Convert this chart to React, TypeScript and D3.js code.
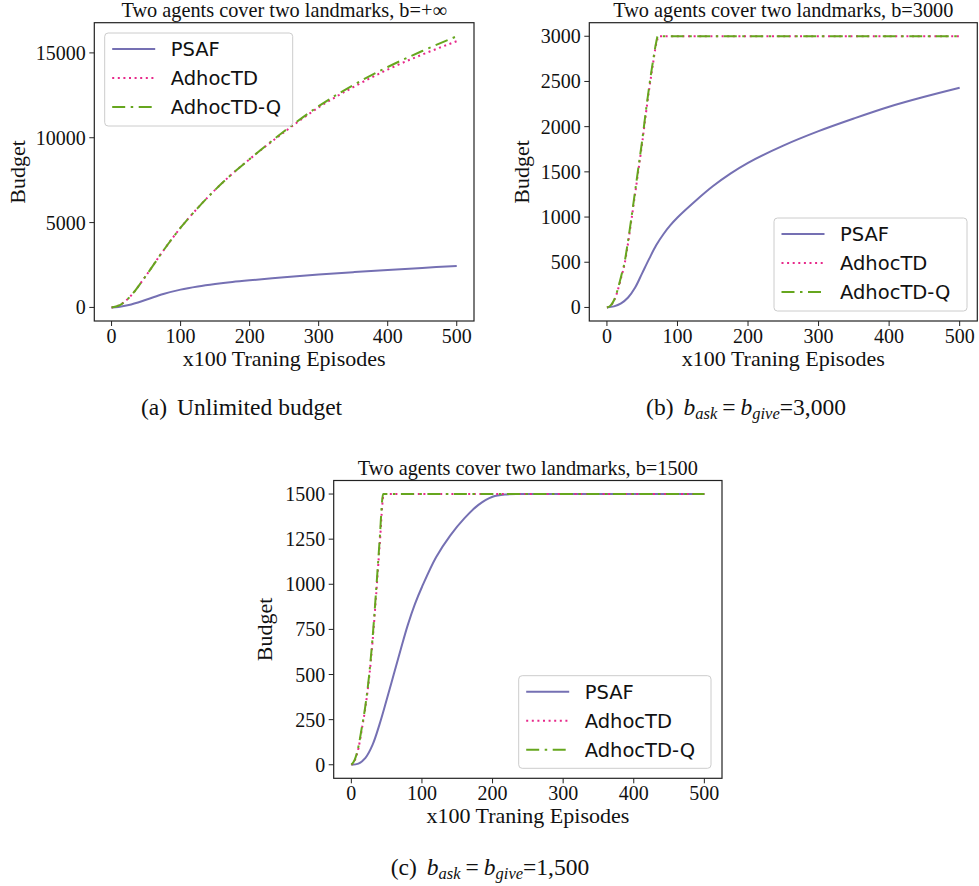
import React from 'react';
import * as d3 from 'd3';

// ---------- data ----------
const SERIES_NAMES = ['PSAF', 'AdhocTD', 'AdhocTD-Q'];
const X_TICKS = [0, 100, 200, 300, 400, 500];

// (a) unlimited budget
const A_PSAF_X = [0, 10, 25, 50, 75, 100, 125, 150, 175, 200, 250, 300, 350, 400, 450, 500];
const A_PSAF_Y = [0, 30, 140, 450, 790, 1050, 1235, 1380, 1500, 1600, 1780, 1940, 2080, 2210, 2330, 2440];
const A_TD_X = [0, 5, 12, 25, 50, 75, 100, 125, 150, 175, 200, 250, 300, 350, 400, 450, 500];
const A_TD_Y = [0, 40, 140, 560, 1880, 3350, 4700, 5870, 6930, 7880, 8740, 10330, 11790, 12980, 14020, 14900, 15690];
const A_TDQ_X = [0, 5, 12, 25, 50, 75, 100, 125, 150, 175, 200, 250, 300, 350, 400, 450, 500];
const A_TDQ_Y = [0, 40, 140, 560, 1880, 3350, 4700, 5870, 6930, 7880, 8740, 10380, 11860, 13100, 14170, 15110, 15980];
const A_Y_TICKS = [0, 5000, 10000, 15000];

// (b) b = 3000
const B_PSAF_X = [0, 10, 20, 30, 40, 50, 60, 70, 80, 90, 100, 125, 150, 175, 200, 250, 300, 350, 400, 450, 500];
const B_PSAF_Y = [0, 12, 45, 110, 220, 380, 540, 690, 810, 910, 995, 1175, 1340, 1480, 1600, 1790, 1950, 2090, 2220, 2330, 2430];
const B_TD_X = [0, 5, 10, 15, 20, 25, 30, 35, 40, 45, 50, 55, 60, 65, 70, 74, 100, 200, 300, 400, 500];
const B_TD_Y = [0, 18, 75, 180, 325, 480, 715, 985, 1260, 1540, 1820, 2130, 2420, 2680, 2920, 3000, 3000, 3000, 3000, 3000, 3000];
const B_TDQ_X = [0, 5, 10, 15, 20, 25, 30, 35, 40, 45, 50, 55, 60, 65, 70, 72, 100, 200, 300, 400, 500];
const B_TDQ_Y = [0, 20, 80, 190, 340, 500, 740, 1010, 1290, 1570, 1850, 2160, 2450, 2710, 2940, 3000, 3000, 3000, 3000, 3000, 3000];
const B_Y_TICKS = [0, 500, 1000, 1500, 2000, 2500, 3000];

// (c) b = 1500
const C_PSAF_X = [0, 10, 20, 30, 40, 50, 60, 70, 80, 90, 100, 120, 140, 160, 180, 200, 220, 240, 300, 400, 500];
const C_PSAF_Y = [0, 6, 38, 110, 225, 360, 500, 640, 775, 890, 985, 1150, 1270, 1365, 1440, 1485, 1498, 1500, 1500, 1500, 1500];
const C_TD_X = [0, 5, 10, 15, 20, 25, 30, 35, 40, 46, 100, 200, 300, 400, 500];
const C_TD_Y = [0, 25, 90, 200, 320, 475, 680, 935, 1210, 1500, 1500, 1500, 1500, 1500, 1500];
const C_TDQ_X = [0, 5, 10, 15, 20, 25, 30, 35, 40, 45, 100, 200, 300, 400, 500];
const C_TDQ_Y = [0, 30, 100, 210, 330, 490, 700, 960, 1240, 1500, 1500, 1500, 1500, 1500, 1500];
const C_Y_TICKS = [0, 250, 500, 750, 1000, 1250, 1500];

// ---------- styles ----------
const COLORS = ['#7570b3', '#e7298a', '#66a61e'];
const DASHES = [undefined, '2 3.6', '13 5.5 2.5 5.5'];
const SERIF = '"Liberation Serif", "Times New Roman", serif';
const SANS = '"DejaVu Sans", sans-serif';

type Box = { left: number; top: number; right: number; bottom: number };
type Leg = { x: number; y: number; w: number; h: number };

function Panel(props: {
  box: Box;
  yDomain: [number, number];
  yTicks: number[];
  xs: number[][];
  ys: number[][];
  legend: Leg;
  title: string;
  ylabelX: number;
}) {
  const { box, yDomain, yTicks, xs, ys, legend, title, ylabelX } = props;
  const x = d3.scaleLinear().domain([-25, 525]).range([box.left, box.right]);
  const y = d3.scaleLinear().domain(yDomain).range([box.bottom, box.top]);
  const mkLine = (curve: d3.CurveFactory) =>
    d3
      .line<[number, number]>()
      .x((d) => x(d[0]))
      .y((d) => y(d[1]))
      .curve(curve);
  const smooth = mkLine(d3.curveCatmullRom.alpha(0.5));
  const mono = mkLine(d3.curveMonotoneX);
  const cx = (box.left + box.right) / 2;
  const cy = (box.top + box.bottom) / 2;
  return (
    <g>
      {xs.map((xa, i) => (
        <path
          key={i}
          d={(i === 0 ? smooth : mono)(xa.map((v, j) => [v, ys[i][j]] as [number, number])) || ''}
          fill="none"
          stroke={COLORS[i]}
          strokeWidth={2}
          strokeDasharray={DASHES[i]}
        />
      ))}
      <rect
        x={box.left}
        y={box.top}
        width={box.right - box.left}
        height={box.bottom - box.top}
        fill="none"
        stroke="#222"
        strokeWidth={1.2}
      />
      {X_TICKS.map((t) => (
        <g key={'x' + t}>
          <line x1={x(t)} x2={x(t)} y1={box.bottom} y2={box.bottom + 5} stroke="#222" strokeWidth={1} />
          <text x={x(t)} y={box.bottom + 22} textAnchor="middle" fontFamily={SERIF} fontSize={20} fill="#111">
            {t}
          </text>
        </g>
      ))}
      {yTicks.map((t) => (
        <g key={'y' + t}>
          <line x1={box.left - 5} x2={box.left} y1={y(t)} y2={y(t)} stroke="#222" strokeWidth={1} />
          <text
            x={box.left - 8.5}
            y={y(t)}
            dy="0.35em"
            textAnchor="end"
            fontFamily={SERIF}
            fontSize={20}
            fill="#111"
          >
            {t}
          </text>
        </g>
      ))}
      <text x={cx} y={box.bottom + 45} textAnchor="middle" fontFamily={SERIF} fontSize={22} fill="#111">
        x100 Traning Episodes
      </text>
      <text
        transform={`translate(${ylabelX},${cy}) rotate(-90)`}
        textAnchor="middle"
        fontFamily={SERIF}
        fontSize={22}
        fill="#111"
      >
        Budget
      </text>
      <text x={cx} y={box.top - 6} textAnchor="middle" fontFamily={SERIF} fontSize={20.3} fill="#111">
        {title}
      </text>
      <g>
        <rect
          x={legend.x}
          y={legend.y}
          width={legend.w}
          height={legend.h}
          rx={3.5}
          fill="white"
          fillOpacity={0.85}
          stroke="#cccccc"
          strokeWidth={1}
        />
        {SERIES_NAMES.map((n, i) => {
          const ry = legend.y + 16 + i * 29;
          return (
            <g key={n}>
              <line
                x1={legend.x + 7.5}
                x2={legend.x + 50.5}
                y1={ry}
                y2={ry}
                stroke={COLORS[i]}
                strokeWidth={2}
                strokeDasharray={DASHES[i]}
              />
              <text x={legend.x + 66} y={ry} dy="0.35em" fontFamily={SANS} fontSize={19.5} fill="#111">
                {n}
              </text>
            </g>
          );
        })}
      </g>
    </g>
  );
}

function MathCaption({ cx, y, label, value }: { cx: number; y: number; label: string; value: string }) {
  return (
    <text x={cx} y={y} textAnchor="middle" fontFamily={SERIF} fontSize={23.5} fill="#111">
      <tspan>{label}</tspan>
      <tspan fontStyle="italic" dx={10}>b</tspan>
      <tspan fontStyle="italic" fontSize={16.5} dy={4}>ask</tspan>
      <tspan dy={-4} dx={5}>=</tspan>
      <tspan fontStyle="italic" dx={5}>b</tspan>
      <tspan fontStyle="italic" fontSize={16.5} dy={4}>give</tspan>
      <tspan dy={-4}>={value}</tspan>
    </text>
  );
}

export default function App() {
  return (
    <svg
      width={979}
      height={886}
      viewBox="0 0 979 886"
      style={{ position: 'absolute', left: 0, top: 0, background: 'white' }}
    >
      <rect x={0} y={0} width={979} height={886} fill="white" />
      <Panel
        box={{ left: 94.3, top: 22.7, right: 474, bottom: 321 }}
        yDomain={[-800, 16780]}
        yTicks={A_Y_TICKS}
        xs={[A_PSAF_X, A_TD_X, A_TDQ_X]}
        ys={[A_PSAF_Y, A_TD_Y, A_TDQ_Y]}
        legend={{ x: 104.7, y: 33, w: 188, h: 93 }}
        title="Two agents cover two landmarks, b=+∞"
        ylabelX={25}
      />
      <Panel
        box={{ left: 589.3, top: 22.7, right: 977.3, bottom: 321 }}
        yDomain={[-150, 3150]}
        yTicks={B_Y_TICKS}
        xs={[B_PSAF_X, B_TD_X, B_TDQ_X]}
        ys={[B_PSAF_Y, B_TD_Y, B_TDQ_Y]}
        legend={{ x: 774, y: 218, w: 193, h: 93 }}
        title="Two agents cover two landmarks, b=3000"
        ylabelX={529}
      />
      <Panel
        box={{ left: 333.7, top: 480.5, right: 722, bottom: 778.3 }}
        yDomain={[-75, 1575]}
        yTicks={C_Y_TICKS}
        xs={[C_PSAF_X, C_TD_X, C_TDQ_X]}
        ys={[C_PSAF_Y, C_TD_Y, C_TDQ_Y]}
        legend={{ x: 518.7, y: 675.7, w: 192.3, h: 92.6 }}
        title="Two agents cover two landmarks, b=1500"
        ylabelX={272}
      />
      <text x={241.5} y={415} textAnchor="middle" fontFamily={SERIF} fontSize={23.5} fill="#111">
        <tspan>(a)</tspan>
        <tspan dx={10}>Unlimited budget</tspan>
      </text>
      <MathCaption cx={746} y={415} label="(b)" value="3,000" />
      <MathCaption cx={490} y={875} label="(c)" value="1,500" />
    </svg>
  );
}
